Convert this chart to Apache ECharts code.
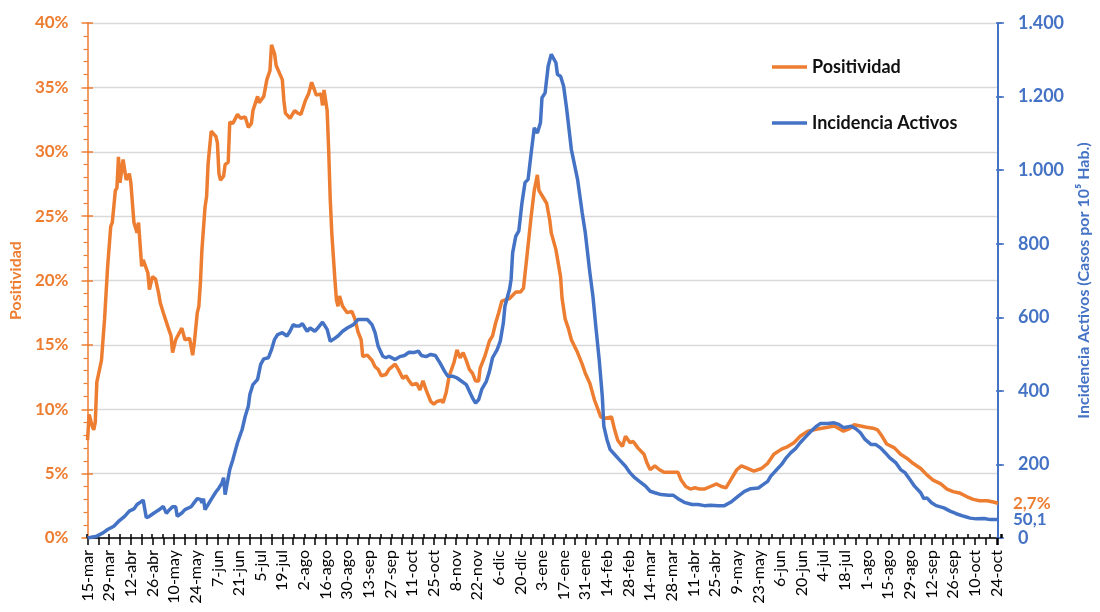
<!DOCTYPE html>
<html><head><meta charset="utf-8">
<script src="https://cdn.jsdelivr.net/npm/echarts@6/dist/echarts.min.js"></script>
<style>html,body{margin:0;padding:0;background:#fff}#c{width:1100px;height:612px}</style>
</head><body><div id="c"></div><script>
// Day index 0 = 15-mar (2020); labels every 14 days
const tickLabels = ['15-mar','29-mar','12-abr','26-abr','10-may','24-may','7-jun','21-jun','5-jul','19-jul','2-ago','16-ago','30-ago','13-sep','27-sep','11-oct','25-oct','8-nov','22-nov','6-dic','20-dic','3-ene','17-ene','31-ene','14-feb','28-feb','14-mar','28-mar','11-abr','25-abr','9-may','23-may','6-jun','20-jun','4-jul','18-jul','1-ago','15-ago','29-ago','12-sep','26-sep','10-oct','24-oct'];
const lastDay = 589;

// Positividad (%) : [day, value]
const positividad = [[0,7.6],[1,9.6],[3,8.7],[4,8.4],[5,9.0],[6,12.1],[9,13.8],[11,17.0],[13,21.1],[15,24.2],[16,24.5],[18,27.0],[19,27.2],[20,29.6],[21,27.6],[23,29.4],[25,27.8],[27,28.3],[28,27.6],[30,24.5],[32,23.7],[33,24.5],[35,21.1],[36,21.6],[39,20.6],[40,19.3],[42,20.3],[44,20.1],[46,19.0],[47,18.3],[49,17.5],[52,16.4],[54,15.7],[55,14.4],[57,15.4],[61,16.3],[63,15.4],[66,15.5],[68,14.2],[69,15.1],[71,17.5],[72,18.0],[73,19.8],[74,22.4],[76,25.7],[77,26.5],[78,29.1],[80,31.6],[83,31.2],[84,30.7],[85,28.3],[86,27.8],[88,28.1],[89,29.0],[91,29.2],[92,32.3],[94,32.2],[97,32.9],[99,32.6],[102,32.7],[104,31.9],[106,32.2],[107,33.2],[110,34.3],[111,33.8],[114,34.3],[116,35.6],[118,36.3],[119,38.3],[121,37.6],[122,36.7],[123,36.6],[126,35.6],[127,34.0],[128,33.0],[131,32.6],[134,33.2],[136,33.0],[138,32.9],[141,34.0],[143,34.5],[145,35.4],[148,34.4],[151,34.5],[152,33.6],[153,34.8],[155,33.2],[156,30.1],[157,26.3],[158,23.7],[160,20.1],[161,18.5],[162,18.0],[163,18.8],[165,18.0],[166,18.1],[168,17.5],[171,17.6],[173,17.0],[175,16.0],[177,15.4],[178,14.1],[181,14.2],[184,13.8],[186,13.3],[188,13.1],[190,12.6],[193,12.7],[195,13.1],[199,13.5],[201,13.1],[204,12.4],[206,12.6],[208,12.2],[210,11.9],[213,12.0],[215,11.5],[217,12.2],[219,11.5],[222,10.6],[224,10.4],[226,10.6],[229,10.7],[230,10.5],[232,11.3],[234,12.6],[237,13.6],[239,14.6],[241,14.0],[243,14.4],[245,13.8],[247,13.1],[249,12.8],[251,12.2],[253,12.2],[254,13.2],[257,14.1],[260,15.3],[262,15.7],[264,16.7],[266,17.5],[268,18.4],[273,18.6],[277,19.1],[280,19.1],[282,19.4],[284,21.6],[287,25.0],[289,27.0],[291,28.2],[292,27.0],[294,26.6],[297,26.0],[299,24.7],[300,23.7],[303,22.4],[306,20.3],[307,18.6],[309,17.0],[311,16.3],[313,15.4],[317,14.4],[320,13.5],[322,12.8],[325,12.0],[328,10.7],[332,9.4],[335,9.3],[339,9.4],[341,8.4],[343,7.6],[346,7.1],[348,7.9],[351,7.4],[353,7.5],[356,7.0],[360,6.5],[362,5.8],[364,5.3],[367,5.6],[370,5.3],[373,5.1],[377,5.1],[380,5.1],[382,5.1],[384,4.5],[387,4.0],[390,3.8],[393,3.9],[396,3.8],[399,3.8],[403,4.0],[407,4.2],[410,4.0],[413,3.9],[416,4.5],[420,5.3],[423,5.6],[427,5.4],[431,5.2],[436,5.4],[440,5.8],[444,6.5],[449,6.9],[453,7.1],[457,7.4],[461,7.9],[466,8.3],[470,8.4],[474,8.5],[479,8.6],[483,8.7],[486,8.5],[489,8.3],[493,8.5],[496,8.8],[500,8.7],[504,8.6],[509,8.5],[511,8.4],[514,7.9],[517,7.3],[522,7.0],[526,6.5],[530,6.2],[534,5.8],[539,5.4],[543,4.9],[547,4.5],[552,4.2],[556,3.8],[560,3.6],[564,3.5],[569,3.2],[573,3.0],[577,2.9],[582,2.9],[586,2.8],[589,2.7]];

// Incidencia Activos (casos por 10^5 hab.) : [day, value]
const incidencia = [[0,0],[6,5],[10,14],[13,23],[17,32],[20,45],[24,59],[27,73],[30,79],[32,91],[34,97],[36,103],[38,55],[40,59],[43,68],[46,76],[49,86],[51,67],[53,77],[55,85],[57,85],[58,59],[61,68],[63,77],[67,85],[69,96],[71,107],[73,105],[74,96],[75,107],[76,77],[78,91],[80,105],[83,125],[85,136],[87,150],[88,164],[89,118],[90,141],[92,186],[94,213],[97,259],[100,295],[102,331],[104,358],[105,390],[107,417],[110,431],[112,472],[114,487],[117,490],[119,512],[121,540],[123,553],[126,558],[127,562],[129,549],[131,562],[133,580],[135,576],[137,576],[139,583],[142,562],[144,571],[147,562],[149,571],[152,587],[155,567],[157,535],[159,540],[162,549],[165,562],[168,571],[172,580],[175,594],[178,594],[181,594],[184,580],[186,558],[188,521],[191,494],[193,490],[195,494],[199,485],[202,493],[205,496],[208,505],[211,504],[214,508],[216,496],[219,493],[222,499],[225,496],[228,476],[231,453],[233,440],[236,440],[239,435],[242,426],[245,417],[247,399],[249,381],[251,367],[253,376],[255,404],[258,426],[260,453],[262,490],[265,512],[267,535],[269,585],[270,630],[273,676],[274,703],[275,775],[277,820],[279,835],[281,910],[283,966],[285,975],[287,1047],[289,1115],[291,1101],[293,1129],[294,1197],[296,1210],[298,1283],[300,1315],[303,1292],[304,1260],[306,1255],[308,1228],[310,1165],[313,1056],[317,975],[320,884],[322,830],[325,720],[327,655],[329,567],[331,485],[333,385],[334,304],[336,268],[338,241],[341,227],[344,213],[348,195],[351,177],[354,164],[357,154],[361,141],[364,127],[367,123],[371,118],[376,116],[379,116],[382,107],[386,97],[391,91],[395,91],[399,88],[403,89],[408,88],[412,88],[416,97],[421,114],[425,127],[429,134],[434,136],[437,145],[440,154],[442,168],[445,182],[449,200],[452,218],[455,232],[458,243],[461,259],[465,277],[468,290],[471,302],[474,311],[479,311],[483,313],[486,309],[489,300],[494,304],[497,297],[500,286],[503,268],[507,254],[510,254],[513,245],[516,232],[519,218],[523,204],[526,186],[529,177],[532,159],[535,141],[539,123],[541,107],[543,109],[546,96],[549,88],[554,82],[558,73],[562,66],[567,59],[571,54],[575,52],[580,53],[584,50],[589,50.1]];

const ORANGE = '#ED7D31', BLUE = '#4472C4';
const FONT = 'Lato, "Open Sans", "DejaVu Sans", sans-serif';
const gridRect = {left: 87, right: 98, top: 23, bottom: 74};
const thousands = v => String(v).replace(/\B(?=(\d{3})+(?!\d))/g, '.');
const comma = v => String(v.toFixed(1)).replace('.', ',');

const chart = echarts.init(document.getElementById('c'), null, {renderer: 'canvas'});
chart.setOption({
  animation: false,
  textStyle: {fontFamily: FONT},
  grid: [Object.assign({}, gridRect), Object.assign({}, gridRect)],
  legend: {
    orient: 'vertical', left: 767, top: 53, itemGap: 38, itemWidth: 35, itemHeight: 3.5,
    icon: 'rect',
    data: ['Positividad', 'Incidencia Activos'],
    textStyle: {fontFamily: FONT, fontSize: 18, fontWeight: 'bold', color: '#111', lineHeight: 18}
  },
  xAxis: [
    {type: 'value', gridIndex: 0, min: 0, max: lastDay, interval: 7,
     axisLine: {lineStyle: {color: '#000', width: 1.5}},
     axisTick: {length: 7, lineStyle: {color: '#000', width: 1.5}},
     axisLabel: {rotate: 90, margin: 12, fontSize: 16, color: '#000', fontFamily: FONT,
       formatter: v => (v % 14 === 0 && tickLabels[v / 14]) ? tickLabels[v / 14] : ''},
     splitLine: {show: false}},
    {type: 'value', gridIndex: 1, min: 0, max: lastDay, interval: 7,
     axisLine: {show: false},
     axisTick: {inside: true, length: 4, lineStyle: {color: '#000', width: 1.5}},
     axisLabel: {show: false}, splitLine: {show: false}}
  ],
  yAxis: [
    {type: 'value', gridIndex: 0, position: 'left', min: 0, max: 40, interval: 5,
     name: 'Positividad', nameLocation: 'middle', nameGap: 60, nameRotate: 90,
     nameTextStyle: {color: ORANGE, fontSize: 16, fontWeight: 'bold', fontFamily: FONT},
     axisLine: {show: true, lineStyle: {color: ORANGE, width: 1.5}},
     axisTick: {show: true, length: 6, lineStyle: {color: ORANGE, width: 1.5}},
     minorTick: {show: true, splitNumber: 5, length: 4, lineStyle: {color: ORANGE, width: 1.2}},
     axisLabel: {color: ORANGE, fontSize: 17, fontWeight: 'bold', margin: 19, formatter: '{value}%', fontFamily: FONT},
     splitLine: {show: true, lineStyle: {color: '#D9D9D9', width: 1.3}}},
    {type: 'value', gridIndex: 0, position: 'right', min: 0, max: 1400, interval: 200,
     name: 'Incidencia Activos (Casos por 10\u2075 Hab.)', nameLocation: 'middle', nameGap: 78, nameRotate: 90,
     nameTextStyle: {color: BLUE, fontSize: 16, fontWeight: 'bold', fontFamily: FONT},
     axisLine: {show: true, lineStyle: {color: BLUE, width: 2}},
     axisTick: {show: true, length: 6, lineStyle: {color: BLUE, width: 1.5}},
     axisLabel: {color: BLUE, fontSize: 18, fontWeight: 'bold', margin: 20, formatter: thousands, fontFamily: FONT},
     splitLine: {show: false}},
    {type: 'value', gridIndex: 1, position: 'left', min: 0, max: 40, interval: 5,
     axisLine: {show: false}, axisTick: {show: true, inside: true, length: 6, lineStyle: {color: ORANGE, width: 1.5}},
     axisLabel: {show: false}, splitLine: {show: false}},
    {type: 'value', gridIndex: 1, position: 'right', min: 0, max: 1400, interval: 200,
     axisLine: {show: false}, axisTick: {show: true, inside: true, length: 6, lineStyle: {color: BLUE, width: 1.5}},
     axisLabel: {show: false}, splitLine: {show: false}}
  ],
  series: [
    {name: 'Positividad', type: 'line', xAxisIndex: 0, yAxisIndex: 0, data: positividad,
     symbol: 'none', smooth: false, color: ORANGE, lineStyle: {color: ORANGE, width: 3.5},
     endLabel: {show: true, distance: 15, color: ORANGE, fontSize: 17, fontWeight: 'bold', fontFamily: FONT,
       formatter: p => comma(p.value[1]) + '%'}},
    {name: 'Incidencia Activos', type: 'line', xAxisIndex: 0, yAxisIndex: 1, data: incidencia,
     symbol: 'none', smooth: false, color: BLUE, lineStyle: {color: BLUE, width: 3.5},
     endLabel: {show: true, distance: 15, color: BLUE, fontSize: 17, fontWeight: 'bold', fontFamily: FONT,
       formatter: p => comma(p.value[1])}}
  ]
});
</script></body></html>
